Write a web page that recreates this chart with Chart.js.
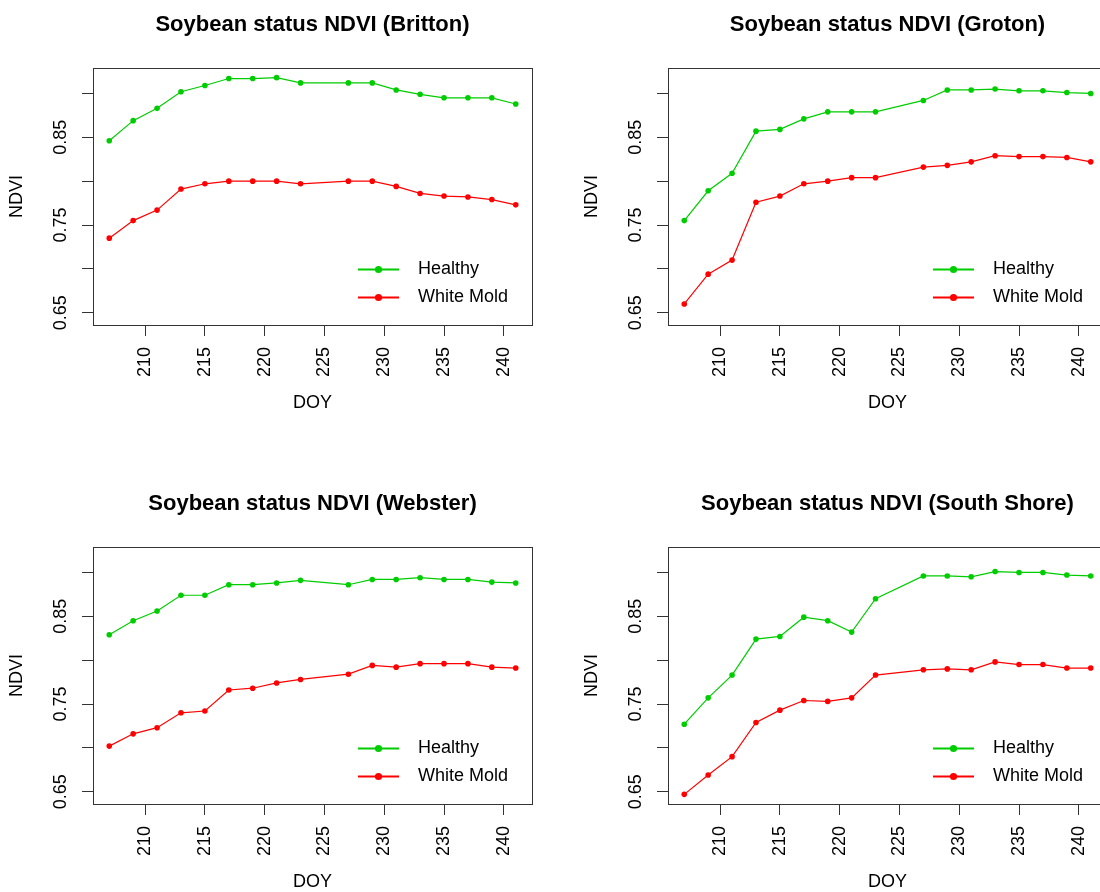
<!DOCTYPE html>
<html>
<head>
<meta charset="utf-8">
<title>Soybean status NDVI</title>
<script src="https://cdn.jsdelivr.net/npm/chart.js@4/dist/chart.umd.min.js"></script>
<style>
    html, body { margin: 0; padding: 0; background: #fff; }
    #page { position: relative; width: 1100px; height: 892px; overflow: hidden; background: #fff; }
    #page canvas { position: absolute; }
</style>
</head>
<body>
<div id="page">
    <canvas id="britton" width="576" height="479" style="left:0;top:0"></canvas>
    <canvas id="groton" width="576" height="479" style="left:575px;top:0"></canvas>
    <canvas id="webster" width="576" height="479" style="left:0;top:479px"></canvas>
    <canvas id="southShore" width="576" height="479" style="left:575px;top:479px"></canvas>
</div>
<script>
const doy = [207, 209, 211, 213, 215, 217, 219, 221, 223, 227, 229, 231, 233, 235, 237, 239, 241];

const brittonHealthy = [0.846, 0.869, 0.883, 0.902, 0.909, 0.917, 0.917, 0.918, 0.912, 0.912, 0.912, 0.904, 0.899, 0.895, 0.895, 0.895, 0.888];
const brittonWhiteMold = [0.735, 0.755, 0.767, 0.791, 0.797, 0.800, 0.800, 0.800, 0.797, 0.800, 0.800, 0.794, 0.786, 0.783, 0.782, 0.779, 0.773];

const grotonHealthy = [0.755, 0.789, 0.809, 0.857, 0.859, 0.871, 0.879, 0.879, 0.879, 0.892, 0.904, 0.904, 0.905, 0.903, 0.903, 0.901, 0.900];
const grotonWhiteMold = [0.660, 0.694, 0.710, 0.776, 0.783, 0.797, 0.800, 0.804, 0.804, 0.816, 0.818, 0.822, 0.829, 0.828, 0.828, 0.827, 0.822];

const websterHealthy = [0.829, 0.845, 0.856, 0.874, 0.874, 0.886, 0.886, 0.888, 0.891, 0.886, 0.892, 0.892, 0.894, 0.892, 0.892, 0.889, 0.888];
const websterWhiteMold = [0.702, 0.716, 0.723, 0.740, 0.742, 0.766, 0.768, 0.774, 0.778, 0.784, 0.794, 0.792, 0.796, 0.796, 0.796, 0.792, 0.791];

const southShoreHealthy = [0.727, 0.757, 0.783, 0.824, 0.827, 0.849, 0.845, 0.832, 0.870, 0.896, 0.896, 0.895, 0.901, 0.900, 0.900, 0.897, 0.896];
const southShoreWhiteMold = [0.647, 0.669, 0.690, 0.729, 0.743, 0.754, 0.753, 0.757, 0.783, 0.789, 0.790, 0.789, 0.798, 0.795, 0.795, 0.791, 0.791];

const xTicks = [210, 215, 220, 225, 230, 235, 240];
const yTicks = [0.65, 0.70, 0.75, 0.80, 0.85, 0.90];
const yTickLabels = ["0.65", "", "0.75", "", "0.85", ""];
const seriesNames = ["Healthy", "White Mold"];

const FONT = "'Liberation Sans', Arial, Helvetica, sans-serif";
const GREEN = "#00cd00";
const RED = "#ff0000";

// legend drawn inside the plot box, bottom right, no frame (like R's bty="n")
const boxLegend = {
    id: "boxLegend",
    afterDraw(chart) {
        const { ctx, chartArea } = chart;
        ctx.save();
        chart.data.datasets.forEach((ds, i) => {
            const y = chartArea.top + 201.5 + i * 28;
            const x0 = chartArea.left + 265;
            ctx.strokeStyle = ds.borderColor;
            ctx.lineWidth = 2;
            ctx.beginPath();
            ctx.moveTo(x0, y);
            ctx.lineTo(x0 + 41, y);
            ctx.stroke();
            ctx.fillStyle = ds.borderColor;
            ctx.beginPath();
            ctx.arc(x0 + 20.5, y, 3.6, 0, Math.PI * 2);
            ctx.fill();
            ctx.fillStyle = "#000";
            ctx.font = "18px " + FONT;
            ctx.textBaseline = "middle";
            ctx.textAlign = "left";
            ctx.fillText(ds.label, x0 + 60, y);
        });
        ctx.restore();
    },
};

const plotBox = {
    id: "plotBox",
    afterDraw(chart) {
        const { ctx, chartArea } = chart;
        ctx.save();
        ctx.strokeStyle = "#333";
        ctx.lineWidth = 1;
        ctx.strokeRect(chartArea.left + 0.5, chartArea.top + 0.5,
            chartArea.right - chartArea.left, chartArea.bottom - chartArea.top);
        ctx.restore();
    },
};

function makePanel(id, site, healthy, whiteMold) {
    const toPoints = (vals) => vals.map((v, i) => ({ x: doy[i], y: v }));
    const series = (label, vals, color) => ({
        label: label,
        data: toPoints(vals),
        borderColor: color,
        backgroundColor: color,
        borderWidth: 1.2,
        pointRadius: 2.8,
        pointBorderWidth: 0,
        pointBackgroundColor: color,
        tension: 0,
    });

    new Chart(document.getElementById(id), {
        type: "line",
        data: {
            datasets: [
                series(seriesNames[0], healthy, GREEN),
                series(seriesNames[1], whiteMold, RED),
            ],
        },
        options: {
            responsive: false,
            animation: false,
            layout: { padding: { left: 0, right: 44, top: 0, bottom: 0 } },
            plugins: {
                legend: { display: false },
                tooltip: { enabled: false },
                title: {
                    display: true,
                    text: "Soybean status NDVI (" + site + ")",
                    fullSize: false,
                    color: "#000",
                    font: { family: FONT, size: 22, weight: "bold", lineHeight: 1.2 },
                    padding: { top: 11.3, bottom: 30.3 },
                },
            },
            scales: {
                x: {
                    type: "linear",
                    min: 205.64,
                    max: 242.36,
                    afterBuildTicks: (s) => { s.ticks = xTicks.map((v) => ({ value: v })); },
                    afterFit: (s) => { s.height = 154; },
                    border: { display: false },
                    grid: { drawOnChartArea: false, drawTicks: true, tickLength: 11, color: "#333", lineWidth: 1 },
                    ticks: {
                        autoSkip: false,
                        minRotation: 90,
                        maxRotation: 90,
                        padding: 11,
                        color: "#000",
                        font: { family: FONT, size: 18 },
                    },
                    title: {
                        display: true,
                        text: "DOY",
                        color: "#000",
                        font: { family: FONT, size: 18, lineHeight: 1.2 },
                        padding: { top: 0, bottom: 65.2 },
                    },
                },
                y: {
                    type: "linear",
                    min: 0.636,
                    max: 0.929,
                    afterBuildTicks: (s) => { s.ticks = yTicks.map((v) => ({ value: v })); },
                    afterFit: (s) => { s.width = 93; },
                    border: { display: false },
                    grid: { drawOnChartArea: false, drawTicks: true, tickLength: 11, color: "#333", lineWidth: 1 },
                    ticks: {
                        autoSkip: false,
                        minRotation: 90,
                        maxRotation: 90,
                        crossAlign: "center",
                        padding: 3.5,
                        color: "#000",
                        font: { family: FONT, size: 18 },
                        callback: (v, i) => yTickLabels[i],
                    },
                    title: {
                        display: true,
                        text: "NDVI",
                        color: "#000",
                        font: { family: FONT, size: 18, lineHeight: 1.2 },
                        padding: { top: 6.2, bottom: 0 },
                    },
                },
            },
        },
        plugins: [plotBox, boxLegend],
    });
}

makePanel("britton", "Britton", brittonHealthy, brittonWhiteMold);
makePanel("groton", "Groton", grotonHealthy, grotonWhiteMold);
makePanel("webster", "Webster", websterHealthy, websterWhiteMold);
makePanel("southShore", "South Shore", southShoreHealthy, southShoreWhiteMold);
</script>
</body>
</html>
